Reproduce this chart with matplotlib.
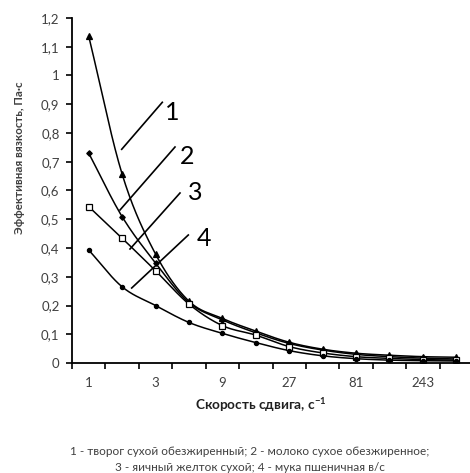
import numpy as np
import matplotlib
matplotlib.use("Agg")
import matplotlib.pyplot as plt
from matplotlib.lines import Line2D

plt.rcParams['font.family'] = ['Lato', 'DejaVu Sans']

shear = ["1", "1,5", "3", "4,5", "9", "13,5", "27", "40,5", "81", "121,5", "243", "364,5"]
tick_labels = ["1", "", "3", "", "9", "", "27", "", "81", "", "243", ""]
s1 = [1.137, 0.657, 0.379, 0.215, 0.155, 0.111, 0.072, 0.048, 0.034, 0.027, 0.022, 0.020]
s2 = [0.730, 0.509, 0.348, 0.210, 0.150, 0.105, 0.068, 0.045, 0.030, 0.022, 0.017, 0.014]
s3 = [0.544, 0.434, 0.321, 0.205, 0.130, 0.097, 0.057, 0.035, 0.022, 0.016, 0.012, 0.010]
s4 = [0.393, 0.265, 0.200, 0.141, 0.103, 0.071, 0.043, 0.025, 0.015, 0.010, 0.008, 0.007]
series_labels = ["1", "2", "3", "4"]
yticks = [0, 0.1, 0.2, 0.3, 0.4, 0.5, 0.6, 0.7, 0.8, 0.9, 1.0, 1.1, 1.2]
ytick_labels = ["0", "0,1", "0,2", "0,3", "0,4", "0,5", "0,6", "0,7", "0,8", "0,9", "1", "1,1", "1,2"]


def smooth(x, y, n=20):
    x = np.asarray(x, float); y = np.asarray(y, float)
    px = np.concatenate([[2 * x[0] - x[1]], x, [2 * x[-1] - x[-2]]])
    py = np.concatenate([[2 * y[0] - y[1]], y, [2 * y[-1] - y[-2]]])
    ox, oy = [], []
    t = np.linspace(0, 1, n)
    for i in range(1, len(px) - 2):
        p0 = np.array([px[i], py[i]])
        p3 = np.array([px[i + 1], py[i + 1]])
        c1 = p0 + (np.array([px[i + 1], py[i + 1]]) - np.array([px[i - 1], py[i - 1]])) / 6
        c2 = p3 - (np.array([px[i + 2], py[i + 2]]) - np.array([px[i], py[i]])) / 6
        b = ((1 - t) ** 3)[:, None] * p0 + (3 * (1 - t) ** 2 * t)[:, None] * c1 + \
            (3 * (1 - t) * t ** 2)[:, None] * c2 + (t ** 3)[:, None] * p3
        ox.extend(b[:, 0]); oy.extend(b[:, 1])
    return np.array(ox), np.array(oy)


W, H = 470, 473
fig = plt.figure(figsize=(W / 100, H / 100), dpi=100)
ax = fig.add_axes([72 / W, (H - 363) / H, 401 / W, 345 / H])

x = np.arange(len(shear))
styles = [dict(marker='^', ms=3.8, mfc='black'),
          dict(marker='D', ms=2.8, mfc='black'),
          dict(marker='s', ms=3.8, mfc='white'),
          dict(marker='o', ms=3.0, mfc='black')]
for ys, st in zip([s1, s2, s3, s4], styles):
    sx, sy = smooth(x, ys)
    ax.plot(sx, sy, color='black', lw=1.1, zorder=2)
    ax.plot(x, ys, ls='none', color='black', mec='black', mew=0.9, zorder=3, **st)

ax.set_xlim(-0.5, 11.5)
ax.set_ylim(0, 1.2)
ax.set_yticks(yticks)
ax.set_yticklabels(ytick_labels)
ax.set_xticks(x)
ax.set_xticklabels(tick_labels)
ax.set_xticks(np.arange(-0.5, 12, 1), minor=True)
ax.tick_params(axis='x', which='major', length=0, pad=10, labelsize=9.5, labelcolor='#404040')
ax.tick_params(axis='x', which='minor', length=4, width=1.2, direction='out')
ax.tick_params(axis='y', length=4, width=1.2, direction='out', labelsize=9.5, labelcolor='#404040', pad=5)
for s in ['top', 'right']:
    ax.spines[s].set_visible(False)
for s in ['left', 'bottom']:
    ax.spines[s].set_linewidth(1.3)

# leader lines with curve numbers
leaders = [((121.7, 149.3), (162.3, 102.3), (172, 112)),
           ((120, 210), (175, 147), (187, 156)),
           ((130, 249), (180, 193), (195, 193)),
           ((131.7, 288), (188.3, 235), (204, 238))]
for lab, (p0, p1, pt) in zip(series_labels, leaders):
    fig.add_artist(Line2D([p0[0] / W, p1[0] / W], [1 - p0[1] / H, 1 - p1[1] / H],
                          color='black', lw=1.2))
    fig.text(pt[0] / W, 1 - pt[1] / H, lab, fontsize=18, ha='center', va='center')

fig.text(20 / W, 1 - 158 / H, "Эффективная вязкость, Па·с", rotation=90,
         ha='center', va='center', fontsize=8.3, fontweight='bold', color='#404040')
fig.text(261 / W, 1 - 405 / H, "Скорость сдвига, с$^{\\mathregular{-1}}$", ha='center', va='center',
         fontsize=9.8, fontweight='bold', color='#202020')
fig.text(250 / W, 1 - 451 / H, "1 - творог сухой обезжиренный; 2 - молоко сухое обезжиренное;",
         ha='center', va='center', fontsize=8.5, color='#404040')
fig.text(250 / W, 1 - 467 / H, "3 - яичный желток сухой; 4 - мука пшеничная в/с",
         ha='center', va='center', fontsize=8.5, color='#404040')

fig.savefig("out.png", dpi=100)
